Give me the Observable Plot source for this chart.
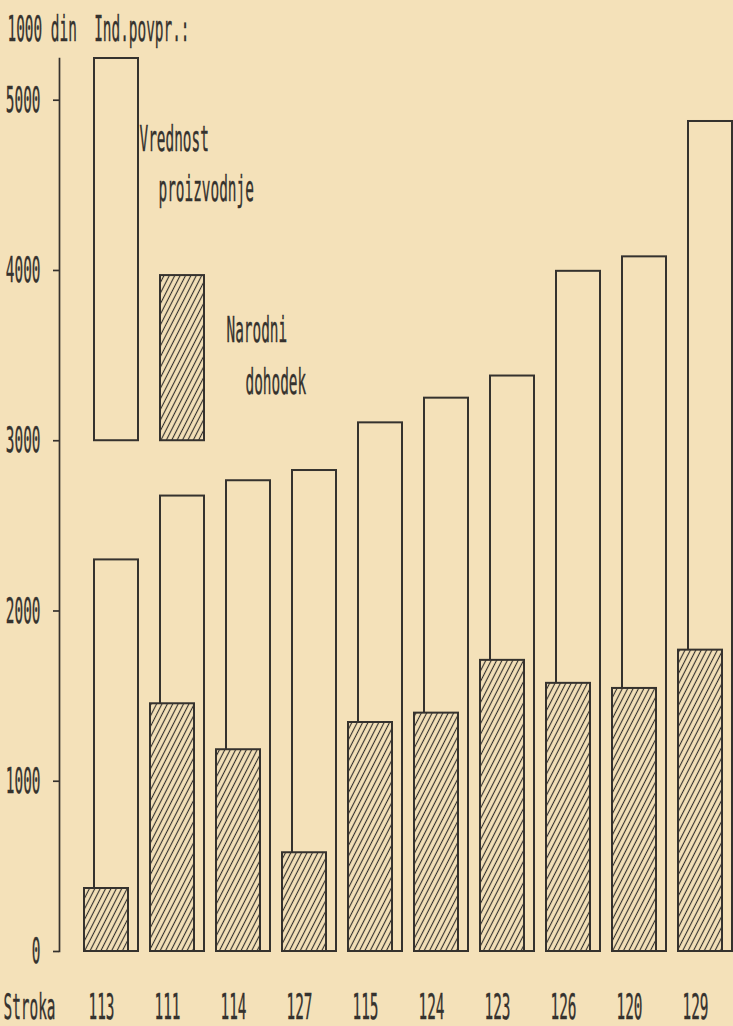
<!DOCTYPE html>
<html>
<head>
<meta charset="utf-8">
<script src="https://cdn.jsdelivr.net/npm/d3@7"></script>
<script src="https://cdn.jsdelivr.net/npm/@observablehq/plot@0.6"></script>
<style>
  html, body { margin: 0; padding: 0; background: #f4e1b9; }
  #chart { width: 733px; height: 1026px; overflow: hidden; }
</style>
</head>
<body>
<div id="chart"></div>
<script>
// ---- data ----
const categories = ["113", "111", "114", "127", "115", "124", "123", "126", "120", "129"];
const vrednostProizvodnje = [2300, 2675, 2765, 2825, 3105, 3250, 3380, 3995, 4080, 4875];
const narodniDohodek = [370, 1455, 1185, 580, 1345, 1400, 1710, 1575, 1545, 1770];
const yTicks = [0, 1000, 2000, 3000, 4000, 5000];
const yMax = 5245;
const legendBase = 3000;
const legendVrednostTop = 5245;
const legendDohodekTop = 3970;
const headerText = "1000 din  Ind.povpr.:";
const xTitle = "Stroka";
const legendLabels = [
  { stroka: "113", y: 4770, text: "Vrednost", dx: 23 },
  { stroka: "113", y: 4475, text: "proizvodnje", dx: 42 },
  { stroka: "111", y: 3645, text: "Narodni", dx: 44 },
  { stroka: "111", y: 3345, text: "dohodek", dx: 63 }
];

const ink = "#35322e";
const paper = "#f4e1b9";

const rows = categories.map((c, i) => ({ stroka: c, vrednost: vrednostProizvodnje[i], dohodek: narodniDohodek[i] }));

const svg = Plot.plot({
  width: 733,
  height: 1026,
  marginTop: 58,
  marginBottom: 75,
  marginLeft: 59,
  marginRight: 0,
  style: { background: "transparent", fontFamily: "'DejaVu Sans Mono', monospace", fontSize: "36px", color: ink },
  x: { domain: categories, range: [92, 734], paddingInner: 0.335, paddingOuter: 0 },
  y: { domain: [0, yMax] },
  marks: [
    Plot.frame({ anchor: "left", stroke: ink, strokeWidth: 1.7 }),
    Plot.axisY(yTicks, { tickSize: 6, tickPadding: 13, tickFormat: d => String(d), label: null, strokeWidth: 1.7 }),
    Plot.axisX({ tickSize: 0, tickPadding: 42, dx: -15, label: null }),
    Plot.barY(rows, { x: "stroka", y: "vrednost", fill: paper, stroke: ink, strokeWidth: 2 }),
    Plot.barY(rows, { x: "stroka", y: "dohodek", dx: -10, fill: "url(#hatch)", stroke: ink, strokeWidth: 2 }),
    Plot.barY([{ stroka: categories[0], y1: legendBase, y2: legendVrednostTop }],
      { x: "stroka", y1: "y1", y2: "y2", fill: paper, stroke: ink, strokeWidth: 2 }),
    Plot.barY([{ stroka: categories[1], y1: legendBase, y2: legendDohodekTop }],
      { x: "stroka", y1: "y1", y2: "y2", fill: "url(#hatch)", stroke: ink, strokeWidth: 2 }),
    ...legendLabels.map(l => Plot.text([l], { x: "stroka", y: "y", text: "text", dx: l.dx, textAnchor: "start", fill: ink })),
    Plot.text([headerText], { frameAnchor: "top-left", text: d => d, dx: -52, dy: -29, lineAnchor: "middle", textAnchor: "start", fill: ink }),
    Plot.text([xTitle], { frameAnchor: "bottom-left", text: d => d, dx: -56, dy: 42, lineAnchor: "top", textAnchor: "start", fill: ink })
  ]
});

// hatch pattern for "Narodni dohodek"
const ns = "http://www.w3.org/2000/svg";
const defs = document.createElementNS(ns, "defs");
defs.innerHTML = `<pattern id="hatch" patternUnits="userSpaceOnUse" width="4.8" height="10" patternTransform="rotate(27)">
  <rect width="4.8" height="10" fill="${paper}"/>
  <line x1="2.4" y1="-1" x2="2.4" y2="11" stroke="${ink}" stroke-width="1.15"/>
</pattern>`;
svg.insertBefore(defs, svg.firstChild);

// condensed plotter-like lettering: squeeze each label horizontally about its anchor
svg.querySelectorAll("text").forEach(t => {
  const tr = t.getAttribute("transform") || "";
  t.setAttribute("transform", `${tr} scale(0.4,1)`);
  t.setAttribute("stroke", ink);
  t.setAttribute("stroke-width", "0.4");
});

document.getElementById("chart").appendChild(svg);
</script>
</body>
</html>
